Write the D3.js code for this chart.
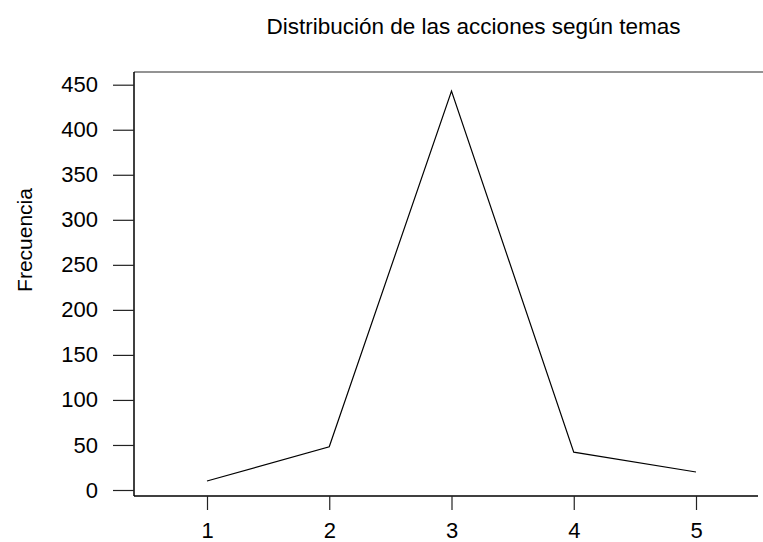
<!DOCTYPE html>
<html>
<head>
<meta charset="utf-8">
<script src="https://cdn.jsdelivr.net/npm/d3@7"></script>
<style>
  body { margin: 0; background: #fff; }
  text { font-family: "Liberation Sans", Arial, sans-serif; fill: #000; }
</style>
</head>
<body>
<div id="chart"></div>
<script>
// Data
const temas = [1, 2, 3, 4, 5];
const frecuencias = [10, 48, 443, 42, 20];
const yTicks = [0, 50, 100, 150, 200, 250, 300, 350, 400, 450];
const titulo = "Distribución de las acciones según temas";
const yTitulo = "Frecuencia";

// Chart dimensions
const width = 763;
const height = 542;
const axisLeftX = 134;
const axisBottomY = 496;
const topY = 72;

const svg = d3.select("#chart")
  .append("svg")
  .attr("width", width)
  .attr("height", height);

// Scales
const xScale = d3.scaleLinear()
  .domain([1, 5])
  .range([207, 696]);

const yScale = d3.scaleLinear()
  .domain([0, 450])
  .range([490, 84.7]);

// Frame lines
svg.append("line")
  .attr("x1", axisLeftX).attr("x2", width)
  .attr("y1", topY).attr("y2", topY)
  .attr("stroke", "#6f6f6f").attr("stroke-width", 1.5);

svg.append("line")
  .attr("x1", axisLeftX).attr("x2", axisLeftX)
  .attr("y1", topY).attr("y2", axisBottomY)
  .attr("stroke", "#000").attr("stroke-width", 1.5);

svg.append("line")
  .attr("x1", axisLeftX).attr("x2", 758)
  .attr("y1", axisBottomY).attr("y2", axisBottomY)
  .attr("stroke", "#000").attr("stroke-width", 1.5);

// Y axis
const yAxis = d3.axisLeft(yScale)
  .tickValues(yTicks)
  .tickSize(21)
  .tickPadding(15)
  .tickFormat(d3.format("d"));

const gy = svg.append("g")
  .attr("transform", "translate(" + axisLeftX + ",0)")
  .call(yAxis);
gy.select(".domain").remove();
gy.selectAll(".tick line").attr("stroke", "#222").attr("stroke-width", 1.2);
gy.selectAll(".tick text")
  .attr("font-size", 22)
  .attr("font-family", "Liberation Sans, Arial, sans-serif")
  .attr("fill", "#000");

// X axis
const xAxis = d3.axisBottom(xScale)
  .tickValues(temas)
  .tickSize(14)
  .tickFormat(d3.format("d"));

const gx = svg.append("g")
  .attr("transform", "translate(0," + axisBottomY + ")")
  .call(xAxis);
gx.select(".domain").remove();
gx.selectAll(".tick line").attr("stroke", "#222").attr("stroke-width", 1.2);
gx.selectAll(".tick text")
  .attr("font-size", 22)
  .attr("font-family", "Liberation Sans, Arial, sans-serif")
  .attr("fill", "#000")
  .attr("dy", null)
  .attr("y", 42);

// Line
const line = d3.line()
  .x(function(d, i) { return xScale(temas[i]); })
  .y(function(d) { return yScale(d); });

svg.append("path")
  .datum(frecuencias)
  .attr("d", line)
  .attr("fill", "none")
  .attr("stroke", "#000")
  .attr("stroke-width", 1.2);

// Titles
svg.append("text")
  .attr("x", 473.5)
  .attr("y", 34)
  .attr("text-anchor", "middle")
  .attr("font-size", 22.5)
  .text(titulo);

svg.append("text")
  .attr("transform", "translate(32,240) rotate(-90)")
  .attr("text-anchor", "middle")
  .attr("font-size", 21)
  .text(yTitulo);
</script>
</body>
</html>
